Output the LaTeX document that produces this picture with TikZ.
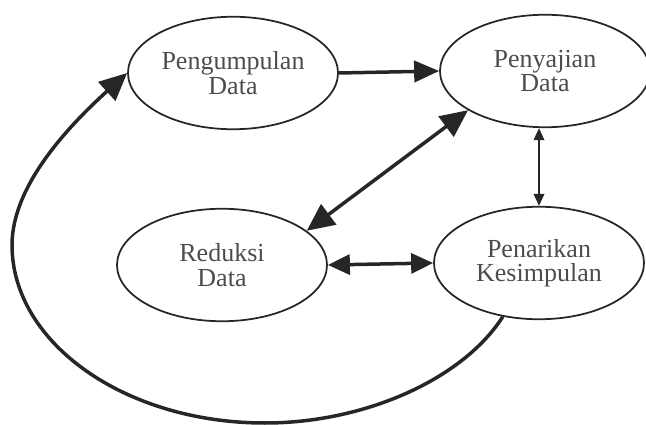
\documentclass[tikz,border=0pt]{standalone}
\usepackage{fontspec}
\setmainfont{Liberation Serif}
\usetikzlibrary{shapes.geometric,arrows.meta}
\begin{document}
\begin{tikzpicture}[x=0.4pt,y=-0.4pt,
    tahap/.style={draw=black!85,line width=0.7pt,ellipse,inner sep=0pt,
        minimum width=84pt,minimum height=45pt,align=center,text=black!70,
        font=\fontsize{10.4}{9.8}\selectfont},
    panah/.style={draw=black!85,line width=1.4pt,-{Triangle[length=10pt,width=8.5pt]}},
    panahbesar/.style={draw=black!85,line width=1.4pt,{Triangle[length=11pt,width=10pt]}-{Triangle[length=11pt,width=10pt]}},
    panahdua/.style={draw=black!85,line width=1.4pt,{Triangle[length=8.8pt,width=8pt]}-{Triangle[length=8.8pt,width=8pt]}},
    panahtipis/.style={draw=black!85,line width=0.8pt,{Triangle[length=4.8pt,width=4.2pt]}-{Triangle[length=4.8pt,width=4.2pt]}}]
    \useasboundingbox (0,0) rectangle (646,425);

    \node[tahap] (kumpul) at (233,73) {Pengumpulan\\Data};
    \node[tahap] (saji) at (545,71) {Penyajian\\Data};
    \node[tahap] (reduksi) at (222,265) {Reduksi\\Data};
    \node[tahap] (tarik) at (539,263) {Penarikan\\Kesimpulan};

    \draw[panah] (kumpul.east) -- (saji.west);
    \draw[panahbesar] (reduksi.22) -- (saji.207);
    \draw[panahtipis] (saji.south -| tarik.north) -- (tarik.north);
    \draw[panahdua] (reduksi.east) -- (tarik.west);

    % kembali ke pengumpulan data
    \draw[panah,-{Triangle[length=11pt,width=10pt]}] (tarik.236)
        .. controls (463,379) and (365,423) .. (265,423)
        .. controls (125,423) and (12,343) .. (12,245)
        .. controls (12,184) and (72,123) .. (kumpul.west);
\end{tikzpicture}
\end{document}
